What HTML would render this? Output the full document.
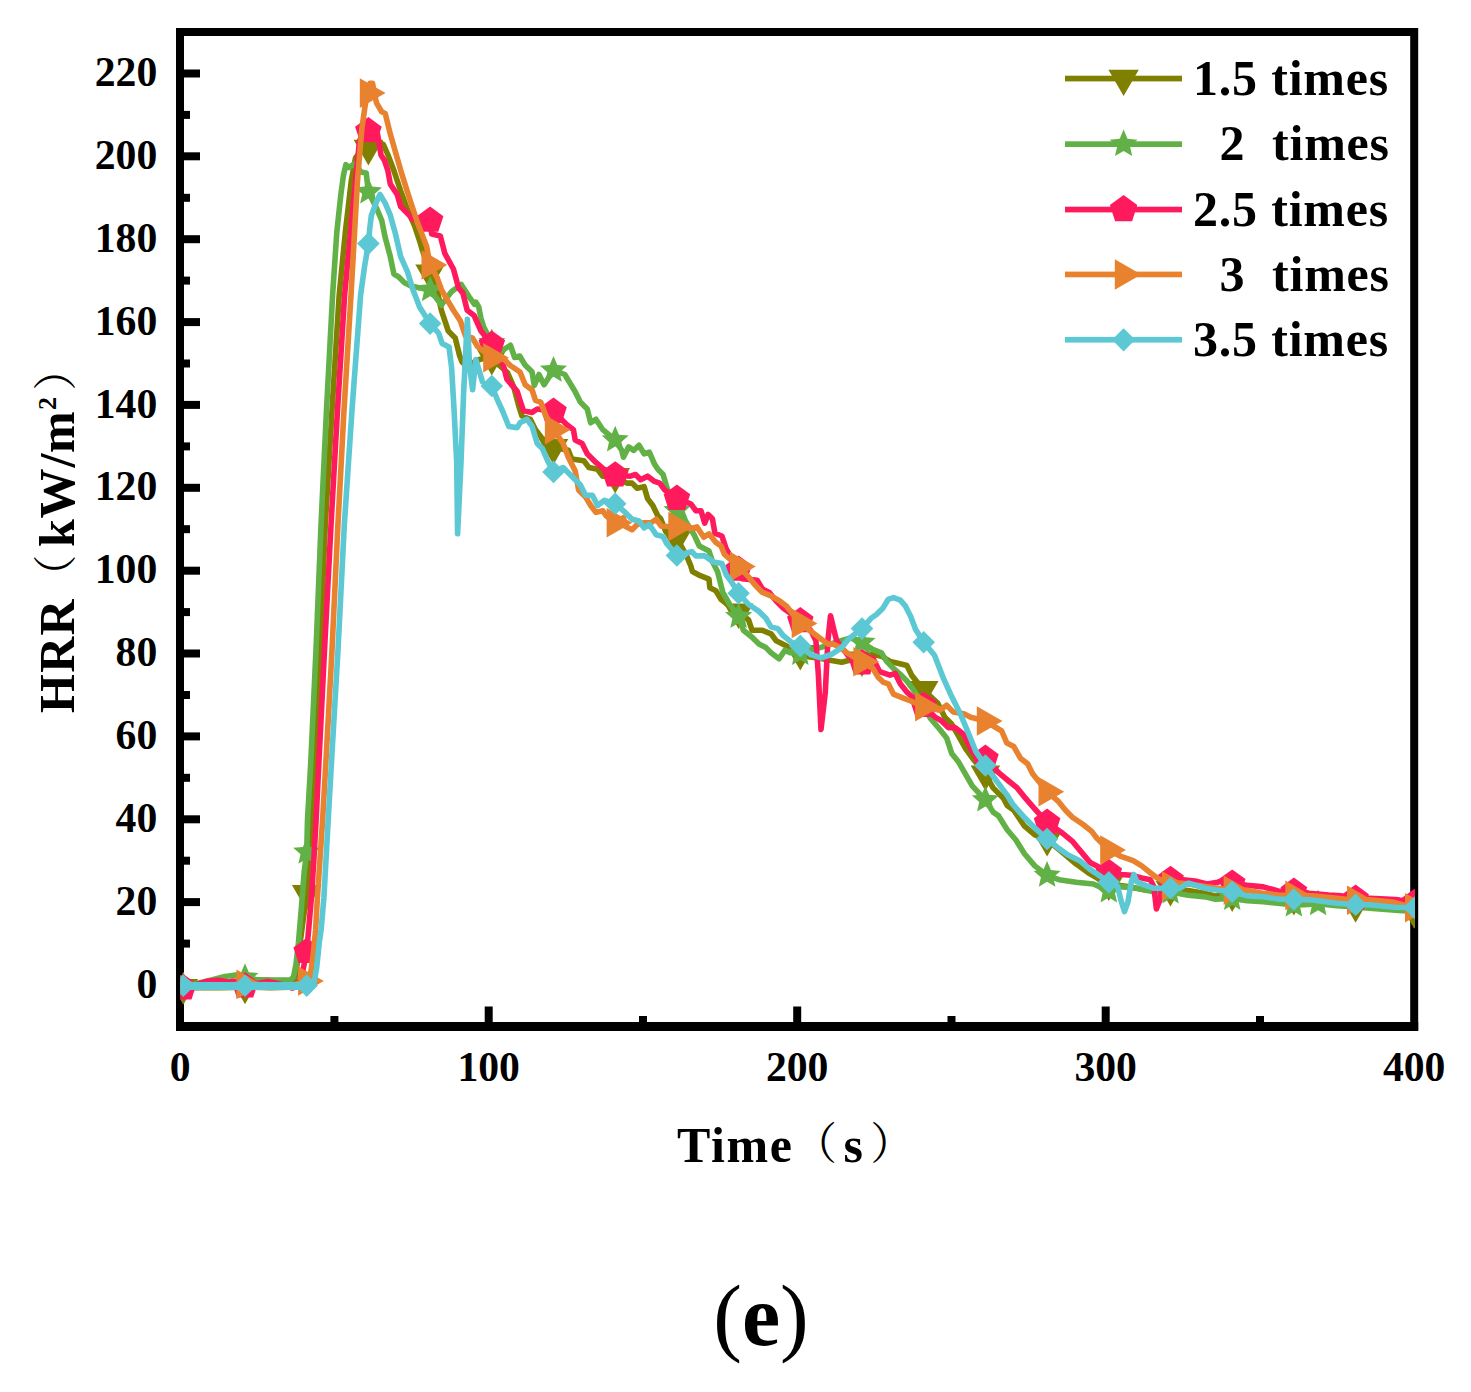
<!DOCTYPE html>
<html lang="en"><head><meta charset="utf-8"><title>HRR vs Time (e)</title>
<style>
html,body{margin:0;padding:0;background:#fff;}
body{width:1471px;height:1392px;overflow:hidden;}
svg{display:block;}
text{font-family:"Liberation Serif","Noto Serif CJK SC",serif;font-weight:bold;fill:#000;}
.tk{font-size:41.7px;}
.lb{font-size:50px;}
.cj{font-family:"Noto Serif CJK SC","Liberation Serif",serif;font-weight:400;}
.cap{font-size:86px;}
.rg{font-weight:normal;}
</style></head><body>
<svg width="1471" height="1392" viewBox="0 0 1471 1392">
<rect x="0" y="0" width="1471" height="1392" fill="#fff"/>
<defs><clipPath id="plotclip"><rect x="180.3" y="32" width="1234.7" height="994.5"/></clipPath></defs>
<g id="axes" fill="#000" stroke="none">
<rect x="180" y="32" width="1234.2" height="994.5" fill="none" stroke="#000" stroke-width="8"/>
<rect x="176" y="1022" width="1242.2" height="9"/>
<rect x="183" y="981" width="17" height="8"/>
<rect x="183" y="939.6" width="7" height="8"/>
<rect x="183" y="898.1" width="17" height="8"/>
<rect x="183" y="856.7" width="7" height="8"/>
<rect x="183" y="815.3" width="17" height="8"/>
<rect x="183" y="773.8" width="7" height="8"/>
<rect x="183" y="732.4" width="17" height="8"/>
<rect x="183" y="691" width="7" height="8"/>
<rect x="183" y="649.5" width="17" height="8"/>
<rect x="183" y="608.1" width="7" height="8"/>
<rect x="183" y="566.7" width="17" height="8"/>
<rect x="183" y="525.2" width="7" height="8"/>
<rect x="183" y="483.8" width="17" height="8"/>
<rect x="183" y="442.4" width="7" height="8"/>
<rect x="183" y="400.9" width="17" height="8"/>
<rect x="183" y="359.5" width="7" height="8"/>
<rect x="183" y="318.1" width="17" height="8"/>
<rect x="183" y="276.6" width="7" height="8"/>
<rect x="183" y="235.2" width="17" height="8"/>
<rect x="183" y="193.8" width="7" height="8"/>
<rect x="183" y="152.3" width="17" height="8"/>
<rect x="183" y="110.9" width="7" height="8"/>
<rect x="183" y="69.5" width="17" height="8"/>
<rect x="330.4" y="1016" width="8" height="7"/>
<rect x="484.7" y="1006.5" width="8" height="16.5"/>
<rect x="639" y="1016" width="8" height="7"/>
<rect x="793.2" y="1006.5" width="8" height="16.5"/>
<rect x="947.5" y="1016" width="8" height="7"/>
<rect x="1101.7" y="1006.5" width="8" height="16.5"/>
<rect x="1256" y="1016" width="8" height="7"/>
</g>
<g id="ylabels" class="tk" text-anchor="end">
<text x="157.3" y="997.6">0</text>
<text x="157.3" y="914.7">20</text>
<text x="157.3" y="831.9">40</text>
<text x="157.3" y="749">60</text>
<text x="157.3" y="666.1">80</text>
<text x="157.3" y="583.3">100</text>
<text x="157.3" y="500.4">120</text>
<text x="157.3" y="417.5">140</text>
<text x="157.3" y="334.7">160</text>
<text x="157.3" y="251.8">180</text>
<text x="157.3" y="168.9">200</text>
<text x="157.3" y="86.1">220</text>
</g>
<g id="xlabels" class="tk" text-anchor="middle">
<text x="180.2" y="1081">0</text>
<text x="488.7" y="1081">100</text>
<text x="797.2" y="1081">200</text>
<text x="1105.7" y="1081">300</text>
<text x="1414.2" y="1081">400</text>
</g>
<g id="xtitle" class="lb">
<text id="xt1" x="677" y="1161.5" letter-spacing="1.6">Time</text>
<text id="xt2" class="cj" font-size="44" x="793" y="1159">（</text>
<text id="xt3" x="843.6" y="1161.5">s</text>
<text id="xt4" class="cj" font-size="44" x="870.2" y="1159">）</text>
</g>
<g id="ytitle" class="lb" transform="translate(73.5 713) rotate(-90)">
<text id="yt1" x="0" y="0" letter-spacing="1.3">HRR</text>
<text id="yt2" class="cj" font-size="44" x="114.6" y="-3">（</text>
<text id="yt3" x="166" y="0" letter-spacing="0.8">kW/m</text>
<text id="yt4" font-size="26" x="303" y="-17.5">2</text>
<text id="yt5" class="cj" font-size="44" x="322.3" y="-3">）</text>
</g>
<text class="cap" x="761" y="1345" text-anchor="middle"><tspan class="rg">(</tspan>e<tspan class="rg">)</tspan></text>
<g id="series" clip-path="url(#plotclip)">
<g id="s-olive" fill="#808000" stroke="none">
<polyline fill="none" stroke="#808000" stroke-width="5.6" stroke-linejoin="round" stroke-linecap="round" points="183.3,987.7 200,987.6 220,987.8 245,987.1 270,987.6 290,987.3 294,984 297,965 300.5,940 306.7,893.7 309.5,850 312,810 314.8,760 320,650 325.3,525 332,410 339.2,295 345.3,232.4 351.3,180.7 355.5,158 361,151 368.4,148.3 373,143 378,142 383.4,144.5 388,155 393.8,170.3 400.7,191 407.6,210 414.5,225.5 419.7,241 422.2,249.7 430.1,273 437,289.7 441.4,310.3 448.3,331 455.2,337.9 459.5,355.2 462,362 466.5,366 469.5,366 472.6,364 475.8,360.5 483.5,358.5 491.8,358.3 500,366 507.5,372.5 513.8,387 519,406.9 522,416 530.3,419.3 535.5,429.7 541,437 547,443 553.5,447.6 562,449 568.3,450.3 571.7,459 583.8,460.7 589,467.6 597.6,469.3 602.8,476.2 615.2,476.5 626.9,483.1 632.1,483.1 637.2,488.3 644.1,486.6 647.6,498.6 652.8,505.5 657.9,515.9 660.7,518.8 665.9,531.7 676.9,538 686.6,555.9 690.9,566.2 692.4,571.5 700.3,575.7 709,579.1 709.8,587.8 715.9,590.7 721,599.3 729.7,606.2 738.6,612 748.6,620 752.1,630.3 762.4,630.3 771,633.8 776.2,640.7 786.6,645.9 793,651 800.3,653.5 810,657 821,658.5 831.4,660.5 841.7,662.2 848.6,660.5 862,660 872.8,654.5 881.4,656.2 890,661.4 900,663.8 906.9,665.5 912.1,675.9 918,683 923.7,689.5 930,696 937.9,703.4 944.8,717.2 951.7,724.1 958.6,736.2 965.5,748.3 974.1,760.3 985.4,774 993.1,787.9 1003.4,798.3 1007.2,805.5 1013.8,810.3 1024.5,826.2 1034.8,834.8 1047.1,839.5 1064.1,853.8 1076.2,864.1 1088.3,872.8 1096.9,877.9 1108.8,884 1127.9,886.6 1145.2,890 1170.5,889.5 1188.3,890.5 1205.5,893.4 1214.5,896 1232.2,894.8 1255.3,899 1278.1,900.5 1293.9,898.5 1312,902 1336.8,903.5 1355.6,905.6 1369.5,906 1394,908.5 1414.2,911.6"/>
<polygon points="168.5,979.1 198.1,979.1 183.3,1004.8"/>
<polygon points="230.2,978.5 259.8,978.5 245,1004.2"/>
<polygon points="291.9,885.1 321.5,885.1 306.7,910.8"/>
<polygon points="353.6,139.7 383.2,139.7 368.4,165.4"/>
<polygon points="415.3,264.4 444.9,264.4 430.1,290.1"/>
<polygon points="477,349.7 506.6,349.7 491.8,375.4"/>
<polygon points="538.7,439 568.3,439 553.5,464.7"/>
<polygon points="600.4,467.9 630,467.9 615.2,493.6"/>
<polygon points="662.1,529.4 691.7,529.4 676.9,555.1"/>
<polygon points="723.8,603.4 753.4,603.4 738.6,629.1"/>
<polygon points="785.5,644.9 815.1,644.9 800.3,670.6"/>
<polygon points="847.2,651.4 876.8,651.4 862,677.1"/>
<polygon points="908.9,680.9 938.5,680.9 923.7,706.6"/>
<polygon points="970.6,765.4 1000.2,765.4 985.4,791.1"/>
<polygon points="1032.3,830.9 1061.9,830.9 1047.1,856.6"/>
<polygon points="1094,875.4 1123.6,875.4 1108.8,901.1"/>
<polygon points="1155.7,880.9 1185.3,880.9 1170.5,906.6"/>
<polygon points="1217.4,886.2 1247,886.2 1232.2,911.9"/>
<polygon points="1279.1,889.9 1308.7,889.9 1293.9,915.6"/>
<polygon points="1340.8,897 1370.4,897 1355.6,922.7"/>
<polygon points="1399.4,903 1429,903 1414.2,928.7"/>
</g>
<g id="s-green" fill="#62B146" stroke="none">
<polyline fill="none" stroke="#62B146" stroke-width="5.6" stroke-linejoin="round" stroke-linecap="round" points="183.3,986 195,984 210.4,980.2 225,976.5 238.5,974.7 245,977.5 255.7,979.5 275,980 291,979.8 293.6,976.5 296,964.3 298.5,942.2 301.7,904 304.2,871.7 306.7,852.2 307.5,820 310.9,760 316,650 321,525 326.5,410 332.6,295 336.8,232.4 340.8,195 343.5,175 345.9,164.7 348.9,167.5 352.4,165.2 355,163.6 361,172.1 366.2,172.9 368.4,191.9 376.6,208.3 381.7,220.3 385.2,237.6 390.3,256.6 393.8,273.8 399,277.2 404.1,282.4 411,285.9 420,288 430.1,289.7 441.4,305.2 451.7,291.4 461.2,284.5 469,296.6 474.5,304.3 475.9,302.2 478.8,307.2 480.9,318 483.8,327.3 491.8,342.6 497,351 502.5,350.3 510.4,345.3 514.7,357.5 519.7,356 524.8,364.7 532,371.8 534.3,385.5 539,374.5 544.1,384.8 553.5,370.2 564.8,374.5 575.2,391.7 580.3,402.1 587.2,409 590.7,422.8 595.9,419.3 602.8,429.7 615.2,440 621.7,450.3 623.4,457.2 628.6,446.9 633.8,450.3 639,445.2 644.1,453.8 649.3,452.1 654.5,464.1 657.9,469.3 663.1,474.5 666.6,486.6 671,500 676.9,510.7 682.1,512.4 685.5,521 694.1,534.8 699.3,546 709,551 712.4,561.4 717.6,571.7 722.8,592.4 729.7,604.5 738.6,616.6 743.4,630.3 752.1,637.2 759,644.1 765.9,647.6 771,652.8 779,658.8 785,650.2 790.2,652.8 800.3,653.5 810,650 820.3,647.6 837.6,641.6 849.7,638.1 856,639.5 862,642.5 872.8,649.3 881.4,652.8 886.6,661.4 893.4,668.3 900,674.1 906.9,681 914.8,691.6 923.7,706 930.3,718.3 939.7,729.3 946.6,737.9 951.7,753.4 958.6,762.1 965.5,774.1 972.4,786.2 985.4,800 993.1,812.1 998.6,815.9 1007.2,829.7 1015.9,840 1024.5,853.8 1034.8,865.9 1047.1,875.3 1059,879.7 1076.2,882.2 1093.4,884 1108.8,890.9 1121,886.6 1136.6,888.3 1153.8,891.7 1170.5,892.1 1188.3,895.2 1205.5,896.9 1214.5,899.1 1232.2,898.5 1247.1,900.8 1263.4,901.6 1280,903.5 1293.9,904.9 1304.2,904.8 1318.1,903.7 1336.8,905.7 1355.6,907 1369.5,908.1 1402.1,910.6 1417,911"/>
<polygon points="183.3,971.8 187.1,980.7 196.8,981.6 189.5,988 191.6,997.5 183.3,992.5 175,997.5 177.1,988 169.8,981.6 179.5,980.7"/>
<polygon points="245,963.3 248.8,972.2 258.5,973.1 251.2,979.5 253.3,989 245,984 236.7,989 238.8,979.5 231.5,973.1 241.2,972.2"/>
<polygon points="306.7,838 310.5,846.9 320.2,847.8 312.9,854.2 315,863.7 306.7,858.7 298.4,863.7 300.5,854.2 293.2,847.8 302.9,846.9"/>
<polygon points="368.4,177.7 372.2,186.6 381.9,187.5 374.6,193.9 376.7,203.4 368.4,198.4 360.1,203.4 362.2,193.9 354.9,187.5 364.6,186.6"/>
<polygon points="430.1,275.5 433.9,284.4 443.6,285.3 436.3,291.7 438.4,301.2 430.1,296.2 421.8,301.2 423.9,291.7 416.6,285.3 426.3,284.4"/>
<polygon points="491.8,328.4 495.6,337.3 505.3,338.2 498,344.6 500.1,354.1 491.8,349.1 483.5,354.1 485.6,344.6 478.3,338.2 488,337.3"/>
<polygon points="553.5,356 557.3,364.9 567,365.8 559.7,372.2 561.8,381.7 553.5,376.7 545.2,381.7 547.3,372.2 540,365.8 549.7,364.9"/>
<polygon points="615.2,425.8 619,434.7 628.7,435.6 621.4,442 623.5,451.5 615.2,446.5 606.9,451.5 609,442 601.7,435.6 611.4,434.7"/>
<polygon points="676.9,496.5 680.7,505.4 690.4,506.3 683.1,512.7 685.2,522.2 676.9,517.2 668.6,522.2 670.7,512.7 663.4,506.3 673.1,505.4"/>
<polygon points="738.6,602.4 742.4,611.3 752.1,612.2 744.8,618.6 746.9,628.1 738.6,623.1 730.3,628.1 732.4,618.6 725.1,612.2 734.8,611.3"/>
<polygon points="800.3,639.3 804.1,648.2 813.8,649.1 806.5,655.5 808.6,665 800.3,660 792,665 794.1,655.5 786.8,649.1 796.5,648.2"/>
<polygon points="862,628.3 865.8,637.2 875.5,638.1 868.2,644.5 870.3,654 862,649 853.7,654 855.8,644.5 848.5,638.1 858.2,637.2"/>
<polygon points="923.7,691.8 927.5,700.7 937.2,701.6 929.9,708 932,717.5 923.7,712.5 915.4,717.5 917.5,708 910.2,701.6 919.9,700.7"/>
<polygon points="985.4,785.8 989.2,794.7 998.9,795.6 991.6,802 993.7,811.5 985.4,806.5 977.1,811.5 979.2,802 971.9,795.6 981.6,794.7"/>
<polygon points="1047.1,861.1 1050.9,870 1060.6,870.9 1053.3,877.3 1055.4,886.8 1047.1,881.8 1038.8,886.8 1040.9,877.3 1033.6,870.9 1043.3,870"/>
<polygon points="1108.8,876.7 1112.6,885.6 1122.3,886.5 1115,892.9 1117.1,902.4 1108.8,897.4 1100.5,902.4 1102.6,892.9 1095.3,886.5 1105,885.6"/>
<polygon points="1170.5,877.9 1174.3,886.8 1184,887.7 1176.7,894.1 1178.8,903.6 1170.5,898.6 1162.2,903.6 1164.3,894.1 1157,887.7 1166.7,886.8"/>
<polygon points="1232.2,884.3 1236,893.2 1245.7,894.1 1238.4,900.5 1240.5,910 1232.2,905 1223.9,910 1226,900.5 1218.7,894.1 1228.4,893.2"/>
<polygon points="1293.9,890.7 1297.7,899.6 1307.4,900.5 1300.1,906.9 1302.2,916.4 1293.9,911.4 1285.6,916.4 1287.7,906.9 1280.4,900.5 1290.1,899.6"/>
<polygon points="1318.1,889.5 1321.9,898.4 1331.6,899.3 1324.3,905.7 1326.4,915.2 1318.1,910.2 1309.8,915.2 1311.9,905.7 1304.6,899.3 1314.3,898.4"/>
</g>
<g id="s-pink" fill="#FF1A5E" stroke="none">
<polyline fill="none" stroke="#FF1A5E" stroke-width="5.6" stroke-linejoin="round" stroke-linecap="round" points="183.3,988.1 195,985 206.7,981.4 219,980.2 227.5,982 233.6,981.4 245,986.3 255,984 267.9,981.4 280,984 292.4,988 298,986 302,975 306.7,951.7 311.4,897.5 313.9,858.8 316.1,820 319,760 324.5,650 331,525 337.5,410 344.6,295 350.5,232.4 356,176 359.5,141 363,132.5 368.4,131 373.5,131.5 377.5,134 379.5,146 381,155 384.5,160.5 387.8,170.3 390.3,184.1 397.2,194.5 400.7,206.6 409.3,215.2 412.8,219.5 422,220.5 430.1,220.5 431.7,234.1 440.3,235.9 444.8,253.4 453.4,269 458.6,287.9 462.9,293.1 467.2,310.3 474.1,315.5 481,331 491.8,344.5 503.4,365.5 506.9,379.3 517.2,391.4 520,400.3 523.4,410.7 532.1,412.4 537.2,409 553.5,411.6 566.6,424.5 573.4,429.7 575.2,440 582.1,443.4 587.2,453.8 595.9,462.4 602.8,468.4 615.2,475.3 630.3,476.2 635.5,474.5 640.7,479.7 647.6,476.2 654.5,481.4 659.7,483.1 664.8,490 676.9,498.6 690.7,503.8 695.9,510.7 701,510.7 704.7,523.1 708.1,514.5 712.4,518.8 715,533.4 721.9,536 726.2,549 738.6,569.5 741.7,578.6 757.2,580.3 762.4,589 769.3,592.4 776.2,601 783.1,607.9 790,613 800.3,621 810.7,630.3 815.9,640.7 818.4,675.2 821,729.5 825.3,692.4 827.9,640.7 830.5,615.7 834,630.3 836.6,640.7 841.7,647.6 848.6,656.2 862,663.1 872.8,657.9 879.7,671.7 890,675.2 895.2,673.4 900.3,683.8 907.2,692.4 913.1,697.6 923.7,705.8 935.5,717.4 941.4,720.7 948.3,727.6 955.2,727.6 963.8,734.5 972.4,751.7 985.4,758.6 998.3,772.4 1008.6,781 1017.2,787.9 1024.1,796.6 1034.5,808.6 1047.1,822.6 1062.4,833.1 1072.8,841.7 1081.4,852.1 1090,862.4 1096.9,865.9 1108.8,872.8 1121,874.5 1131.4,875.3 1141.7,877.9 1150.3,879.7 1153.8,886.6 1156.4,909 1159.8,900.3 1162.4,883.1 1170.5,879.7 1183.1,879.7 1196.9,881.4 1207.2,884 1217.6,882.2 1225,880 1232.2,883.4 1247.1,885.3 1263.4,886.9 1278.1,891 1293.9,891.5 1309.1,893.4 1328.7,895.1 1341.7,895.9 1355.6,898.5 1369.5,898.3 1385.8,899.1 1398.8,899.9 1414.2,902.9"/>
<polygon points="183.3,974.1 196.6,983.8 191.5,999.4 175.1,999.4 170,983.8"/>
<polygon points="245,972.3 258.3,982 253.2,997.6 236.8,997.6 231.7,982"/>
<polygon points="306.7,937.7 320,947.4 314.9,963 298.5,963 293.4,947.4"/>
<polygon points="368.4,117 381.7,126.7 376.6,142.3 360.2,142.3 355.1,126.7"/>
<polygon points="430.1,206.5 443.4,216.2 438.3,231.8 421.9,231.8 416.8,216.2"/>
<polygon points="491.8,330.5 505.1,340.2 500,355.8 483.6,355.8 478.5,340.2"/>
<polygon points="553.5,397.6 566.8,407.3 561.7,422.9 545.3,422.9 540.2,407.3"/>
<polygon points="615.2,461.3 628.5,471 623.4,486.6 607,486.6 601.9,471"/>
<polygon points="676.9,484.6 690.2,494.3 685.1,509.9 668.7,509.9 663.6,494.3"/>
<polygon points="738.6,555.5 751.9,565.2 746.8,580.8 730.4,580.8 725.3,565.2"/>
<polygon points="800.3,607 813.6,616.7 808.5,632.3 792.1,632.3 787,616.7"/>
<polygon points="862,649.1 875.3,658.8 870.2,674.4 853.8,674.4 848.7,658.8"/>
<polygon points="923.7,691.8 937,701.5 931.9,717.1 915.5,717.1 910.4,701.5"/>
<polygon points="985.4,744.6 998.7,754.3 993.6,769.9 977.2,769.9 972.1,754.3"/>
<polygon points="1047.1,808.6 1060.4,818.3 1055.3,833.9 1038.9,833.9 1033.8,818.3"/>
<polygon points="1108.8,858.8 1122.1,868.5 1117,884.1 1100.6,884.1 1095.5,868.5"/>
<polygon points="1170.5,865.7 1183.8,875.4 1178.7,891 1162.3,891 1157.2,875.4"/>
<polygon points="1232.2,869.4 1245.5,879.1 1240.4,894.7 1224,894.7 1218.9,879.1"/>
<polygon points="1293.9,877.5 1307.2,887.2 1302.1,902.8 1285.7,902.8 1280.6,887.2"/>
<polygon points="1355.6,884.5 1368.9,894.2 1363.8,909.8 1347.4,909.8 1342.3,894.2"/>
<polygon points="1414.2,888.9 1427.5,898.6 1422.4,914.2 1406,914.2 1400.9,898.6"/>
</g>
<g id="s-orange" fill="#E8822E" stroke="none">
<polyline fill="none" stroke="#E8822E" stroke-width="5.6" stroke-linejoin="round" stroke-linecap="round" points="180.2,984.8 200,985 230,984.8 245,984.4 270,984.8 295,984.5 306.7,981 310.7,972.8 313.2,954.5 315.6,930 317.4,897.5 322.6,820 326,760 332,650 337.9,525 344,410 351,295 357.5,180.7 361.8,129 365.5,103.1 368.4,93.1 369.9,83.4 372.6,83.4 374.2,93 376.6,103.1 381.7,111.7 385.2,113.4 390.3,134.1 400.7,170.3 409.3,197.9 417.9,223.8 426.6,246.2 430.1,265 437.1,277.6 441.4,289.7 448.3,301.7 453.4,310.3 460.3,320.7 465.5,336.2 472.4,337.9 477.6,346.6 491.8,357.8 503.4,358.6 510.3,365.5 520,372 525.2,384.8 532.1,390 535.5,400.3 540.7,402.1 545.9,415.9 553.5,429.7 563.1,443.4 568.3,457.2 575.2,471 578.6,490 585.5,496.9 590.7,505.5 595.9,512.4 602.8,510.7 606.2,515.9 615.2,522.8 623.4,517.6 625.2,526.2 632.1,529.7 637.2,524.5 644.1,522.8 651,522.8 656.2,519.3 661.4,526.2 676.9,526.5 690,528.6 696.9,526.9 703.8,537.2 709,533.8 715.9,542.4 721,545.9 724.5,554.5 738.6,566.6 748.6,576.9 755.5,585.5 762.4,592.4 771,595.9 779.7,601 786.6,606.2 800.3,623.4 814.1,633.8 821,639 827.9,644.1 833.1,644.1 840,647.6 846.9,652.8 862,661.7 872.8,668.3 877.9,676.9 883.1,682.1 888.3,683.8 893.4,694.1 902.1,697.6 910.7,701 923.7,706.8 939.7,710.3 946.6,705.2 953.4,712.1 963.8,713.8 970.7,717.2 985.4,721 1001.7,731 1006.9,743.1 1013.8,746.6 1020.7,758.6 1027.6,763.8 1032.8,774.1 1047.1,791.7 1058.6,801.7 1065.5,810.3 1072.4,817.2 1083.1,824.5 1091.7,831.4 1096.9,838.3 1108.8,850 1121,856.4 1133.1,860.7 1141.7,865.9 1150.3,872.8 1157.2,877.9 1170.5,885.7 1179.7,883.1 1188.3,884 1205.5,886.6 1214.5,887.7 1232.2,890.2 1247.1,890.2 1263.4,893.4 1278.1,895.1 1293.9,895.4 1312.4,895.9 1336.8,898.3 1355.6,900.3 1369.5,899.9 1394,902.4 1413.6,907.7"/>
<polygon points="171.6,970 171.6,999.6 197.3,984.8"/>
<polygon points="236.4,969.6 236.4,999.2 262.1,984.4"/>
<polygon points="298.1,966.2 298.1,995.8 323.8,981"/>
<polygon points="359.8,78.3 359.8,107.9 385.5,93.1"/>
<polygon points="421.5,250.2 421.5,279.8 447.2,265"/>
<polygon points="483.2,343 483.2,372.6 508.9,357.8"/>
<polygon points="544.9,414.9 544.9,444.5 570.6,429.7"/>
<polygon points="606.6,508 606.6,537.6 632.3,522.8"/>
<polygon points="668.3,511.7 668.3,541.3 694,526.5"/>
<polygon points="730,551.8 730,581.4 755.7,566.6"/>
<polygon points="791.7,608.6 791.7,638.2 817.4,623.4"/>
<polygon points="853.4,646.9 853.4,676.5 879.1,661.7"/>
<polygon points="915.1,692 915.1,721.6 940.8,706.8"/>
<polygon points="976.8,706.2 976.8,735.8 1002.5,721"/>
<polygon points="1038.5,776.9 1038.5,806.5 1064.2,791.7"/>
<polygon points="1100.2,835.2 1100.2,864.8 1125.9,850"/>
<polygon points="1161.9,870.9 1161.9,900.5 1187.6,885.7"/>
<polygon points="1223.6,875.4 1223.6,905 1249.3,890.2"/>
<polygon points="1285.3,880.6 1285.3,910.2 1311,895.4"/>
<polygon points="1347,885.5 1347,915.1 1372.7,900.3"/>
<polygon points="1405,892.9 1405,922.5 1430.7,907.7"/>
</g>
<g id="s-cyan" fill="#5CC8D4" stroke="none">
<polyline fill="none" stroke="#5CC8D4" stroke-width="5.6" stroke-linejoin="round" stroke-linecap="round" points="183.3,985.8 210,986 245,985.8 280,986 306.7,985.6 310.7,985.5 314.4,981.4 316.8,966.7 319.3,942.2 321.1,930 323.9,897.5 328.2,820 331.6,760 338,650 344.3,525 352,410 360.6,295 364.5,266.9 368.4,243.6 369.7,229 371.4,215.2 376.6,201.4 380,194.5 385.2,203.1 390.3,215.2 395.5,234.1 400.7,256.6 407.6,272.1 412.8,289.3 419.7,307.2 430.1,323.6 438.6,333.1 442.1,343.4 449,346.9 451.6,367.6 454.1,410.7 456.7,462.4 457.6,533.8 461,462.4 463.6,393.4 466.2,341.7 467.4,319.3 469.5,365 472.6,389.8 475.8,359.6 479,370 482.5,382 491.8,386 497.5,400 503,412 508.8,426.5 517.2,427.6 520,422.8 526.9,419.3 532.1,426.2 537.2,443.4 542.4,448.6 547.6,460.7 553.5,471.9 563.1,467.6 571.7,476.2 580.3,484.8 585.5,495.2 592.4,495.2 597.6,505.5 604.5,500.3 615.2,503.8 625.2,512.4 632.1,519.3 639,521 644.1,527.9 649.3,524.5 656.2,534.8 663.1,536.6 666.6,543.4 676.9,555.5 691.7,551.6 696,555.9 704.7,555.9 713.3,561.9 721.9,563.6 726.2,574.8 731.4,581.7 738.6,593.3 748.6,604.5 759,611.4 765.9,618.3 771,626.9 777.9,628.6 783.1,635.5 791.7,642.4 800.3,645.9 810.7,654.5 821,657.9 831.4,654.5 841.7,647.6 848.6,639 862,628.6 871,618.3 876.2,614.8 883.1,607.9 888.3,599.3 893.4,597.6 900.3,600.2 905.5,606.2 910.7,616.6 915.5,629.3 923.7,642.3 934.5,655.2 943.1,677.6 951.7,696.6 960.3,713.8 969,734.5 975.9,751.7 985.4,765.5 996.6,781 1006.9,794.8 1012.4,803.8 1024.5,817.6 1036.6,829.7 1047.1,839 1059,848.6 1067.6,854.7 1079.7,860.7 1090,869.3 1100.3,876.2 1108.8,882.2 1117.6,886.6 1121,900.3 1124.5,911.6 1127.9,902.1 1131.4,881.4 1134,874.5 1136.6,881.4 1141.7,884 1153.8,888.3 1170.5,888.3 1179.7,888.3 1188.3,883.1 1196.9,885.7 1206.3,888.5 1220,890.5 1232.2,891.8 1247.1,895.9 1263.4,896.7 1278.1,899.1 1293.9,899.5 1312.4,899.9 1336.8,903.2 1355.6,904.8 1369.5,904.8 1394,907.3 1414.5,907.7"/>
<polyline fill="none" stroke="#5CC8D4" stroke-width="8" stroke-linecap="round" points="183.3,986 311,986"/>
<polygon points="183.3,974.5 194.6,985.8 183.3,997.1 172,985.8"/>
<polygon points="245,974.5 256.3,985.8 245,997.1 233.7,985.8"/>
<polygon points="306.7,974.3 318,985.6 306.7,996.9 295.4,985.6"/>
<polygon points="368.4,232.3 379.7,243.6 368.4,254.9 357.1,243.6"/>
<polygon points="430.1,312.3 441.4,323.6 430.1,334.9 418.8,323.6"/>
<polygon points="491.8,374.7 503.1,386 491.8,397.3 480.5,386"/>
<polygon points="553.5,460.6 564.8,471.9 553.5,483.2 542.2,471.9"/>
<polygon points="615.2,492.5 626.5,503.8 615.2,515.1 603.9,503.8"/>
<polygon points="676.9,544.2 688.2,555.5 676.9,566.8 665.6,555.5"/>
<polygon points="738.6,582 749.9,593.3 738.6,604.6 727.3,593.3"/>
<polygon points="800.3,634.6 811.6,645.9 800.3,657.2 789,645.9"/>
<polygon points="862,617.3 873.3,628.6 862,639.9 850.7,628.6"/>
<polygon points="923.7,631 935,642.3 923.7,653.6 912.4,642.3"/>
<polygon points="985.4,754.2 996.7,765.5 985.4,776.8 974.1,765.5"/>
<polygon points="1047.1,827.7 1058.4,839 1047.1,850.3 1035.8,839"/>
<polygon points="1108.8,870.9 1120.1,882.2 1108.8,893.5 1097.5,882.2"/>
<polygon points="1170.5,877 1181.8,888.3 1170.5,899.6 1159.2,888.3"/>
<polygon points="1232.2,880.5 1243.5,891.8 1232.2,903.1 1220.9,891.8"/>
<polygon points="1293.9,888.2 1305.2,899.5 1293.9,910.8 1282.6,899.5"/>
<polygon points="1355.6,893.5 1366.9,904.8 1355.6,916.1 1344.3,904.8"/>
<polygon points="1414.5,896.4 1425.8,907.7 1414.5,919 1403.2,907.7"/>
</g>
</g>
<g id="legend">
<g fill="#808000"><rect x="1065" y="75.7" width="117" height="5.7"/><polygon points="1108.4,69.7 1138.8,69.7 1123.6,96.1"/></g>
<text class="lb" x="1193" y="95.4" xml:space="preserve" letter-spacing="0.8">1.5 times</text>
<g fill="#62B146"><rect x="1065" y="141.3" width="117" height="5.7"/><polygon points="1123.6,129.6 1127.5,138.8 1137.5,139.7 1130,146.3 1132.2,156 1123.6,150.9 1115,156 1117.2,146.3 1109.7,139.7 1119.7,138.8"/></g>
<text class="lb" x="1193" y="160.3" xml:space="preserve" letter-spacing="0.8">  2  times</text>
<g fill="#FF1A5E"><rect x="1065" y="206.7" width="117" height="5.7"/><polygon points="1123.6,195.1 1137.3,205 1132.1,221.2 1115.1,221.2 1109.9,205"/></g>
<text class="lb" x="1193" y="225.7" xml:space="preserve" letter-spacing="0.8">2.5 times</text>
<g fill="#E8822E"><rect x="1065" y="271.6" width="117" height="5.7"/><polygon points="1114.8,259.3 1114.8,289.7 1141.2,274.5"/></g>
<text class="lb" x="1193" y="290.8" xml:space="preserve" letter-spacing="0.8">  3  times</text>
<g fill="#5CC8D4"><rect x="1065" y="336.9" width="117" height="5.7"/><polygon points="1123.6,328.2 1135.2,339.8 1123.6,351.4 1112,339.8"/></g>
<text class="lb" x="1193" y="356.1" xml:space="preserve" letter-spacing="0.8">3.5 times</text>
</g>
</svg>
</body></html>
